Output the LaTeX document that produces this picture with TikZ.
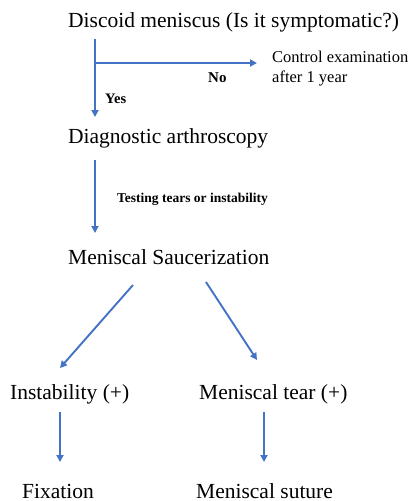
\documentclass[tikz,border=0pt]{standalone}
\usepackage{fontspec}
\setmainfont{Liberation Serif}
\usetikzlibrary{arrows.meta}
\definecolor{arrowblue}{HTML}{4472C4}
\tikzset{
  big/.style={anchor=base west, inner sep=0pt, font=\fontsize{21.5}{24}\selectfont},
  small/.style={anchor=base west, inner sep=0pt, font=\fontsize{16.5}{20}\selectfont},
  tiny/.style={anchor=base west, inner sep=0pt, font=\bfseries\fontsize{13.5}{15}\selectfont},
  flow/.style={draw=arrowblue, line width=1.9pt, -{Triangle[length=7pt,width=7pt]}}
}
\begin{document}
\begin{tikzpicture}[x=1pt,y=-1pt]
\useasboundingbox (0,0) rectangle (410,501);
\node[big] (title) at (68,27) {Discoid meniscus (Is it symptomatic?)};
\node[small] (ctrl) at (272,62) {Control examination};
\node[small] (ctrl2) at (272,82) {after 1 year};
\node[tiny, font=\bfseries\fontsize{15}{17}\selectfont] (no) at (208,82) {No};
\node[tiny, font=\bfseries\fontsize{14.5}{17}\selectfont] (yes) at (105,103) {Yes};
\node[big] (diag) at (68,143) {Diagnostic arthroscopy};
\node[tiny] (test) at (117,202) {Testing tears or instability};
\node[big] (sauc) at (68,264) {Meniscal Saucerization};
\node[big] (inst) at (10,399) {Instability (+)};
\node[big] (tear) at (199,399) {Meniscal tear (+)};
\node[big] (fix) at (22,498) {Fixation};
\node[big] (sut) at (196,498) {Meniscal suture};

\coordinate (a1s) at (95,39);
\coordinate (a1e) at (95,117);
\coordinate (br) at (95,63);
\coordinate (bre) at (257,63);
\coordinate (a2s) at (95,160);
\coordinate (a2e) at (95,233);
\coordinate (l1s) at (133,285);
\coordinate (l1e) at (60,368);
\coordinate (r1s) at (206,282);
\coordinate (r1e) at (257,360);
\coordinate (l2s) at (60,412);
\coordinate (l2e) at (60,462);
\coordinate (r2s) at (264,412);
\coordinate (r2e) at (264,462);

\draw[flow] (a1s) -- (a1e);
\draw[flow] (br) -- (bre);
\draw[flow] (a2s) -- (a2e);
\draw[flow] (l1s) -- (l1e);
\draw[flow] (r1s) -- (r1e);
\draw[flow] (l2s) -- (l2e);
\draw[flow] (r2s) -- (r2e);
\end{tikzpicture}
\end{document}
